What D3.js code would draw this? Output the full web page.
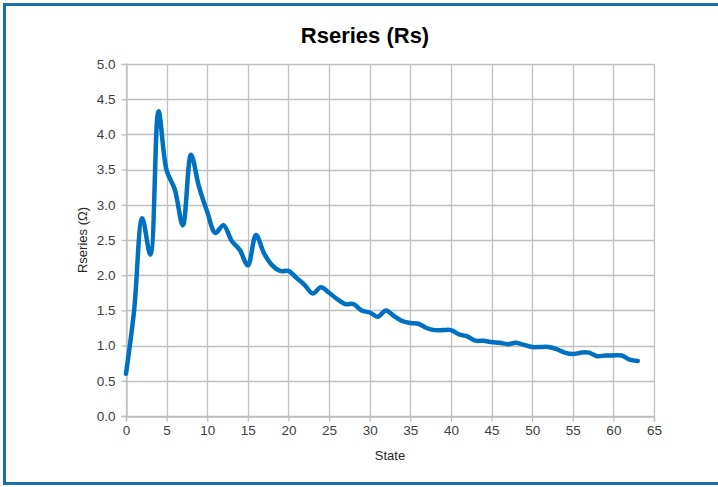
<!DOCTYPE html>
<html><head><meta charset="utf-8">
<script src="https://cdn.jsdelivr.net/npm/d3@7"></script>
<style>
html,body{margin:0;padding:0;background:#fff;}
svg{display:block;font-family:"Liberation Sans",Arial,sans-serif;}
</style></head>
<body>
<svg id="c" width="718" height="487"></svg>
<script>
const states = d3.range(0, 64);
const rseries = [0.60,1.50,2.81,2.29,4.33,3.49,3.22,2.71,3.71,3.25,2.90,2.60,2.71,2.49,2.36,2.14,
  2.57,2.31,2.14,2.06,2.06,1.96,1.86,1.74,1.83,1.75,1.66,1.59,1.59,1.50,1.47,1.41,
  1.50,1.42,1.35,1.32,1.31,1.25,1.22,1.22,1.22,1.16,1.13,1.07,1.07,1.05,1.04,1.02,
  1.04,1.01,0.98,0.98,0.98,0.95,0.90,0.88,0.90,0.90,0.85,0.86,0.86,0.86,0.80,0.78];
const xTicks = [0,5,10,15,20,25,30,35,40,45,50,55,60,65];
const yTicks = [0,0.5,1,1.5,2,2.5,3,3.5,4,4.5,5];
const title = "Rseries (Rs)";
const xTitle = "State";
const yTitle = "Rseries (Ω)";

const svg = d3.select("#c");
const W = 718, H = 487;
const m = {left:126, right:64, top:64, bottom:71};
const x = d3.scaleLinear().domain([0,65]).range([m.left, W - m.right]);
const y = d3.scaleLinear().domain([0,5]).range([H - m.bottom, m.top]);

// border
svg.append("rect").attr("x",4.5).attr("y",4.5).attr("width",W+2).attr("height",H-8)
  .attr("fill","none").attr("stroke","#1a6fae").attr("stroke-width",3);

// grid
const g = svg.append("g");
g.selectAll("line.h").data(yTicks).join("line")
  .attr("x1",x(0)).attr("x2",x(65)).attr("y1",d=>Math.round(y(d))+0.5).attr("y2",d=>Math.round(y(d))+0.5)
  .attr("stroke","#c0c0c0").attr("stroke-width",1.3);
g.selectAll("line.v").data(xTicks).join("line")
  .attr("y1",y(0)).attr("y2",y(5)).attr("x1",d=>Math.round(x(d))+0.5).attr("x2",d=>Math.round(x(d))+0.5)
  .attr("stroke","#c0c0c0").attr("stroke-width",1.3);

// axes
const xAxis = d3.axisBottom(x).tickValues(xTicks).tickSize(5).tickPadding(4).tickFormat(d3.format("d"));
const yAxis = d3.axisLeft(y).tickValues(yTicks).tickSize(5).tickPadding(6).tickFormat(d3.format(".1f"));
const gx = svg.append("g").attr("transform",`translate(0,${y(0)+0.5})`).call(xAxis);
const gy = svg.append("g").attr("transform",`translate(${x(0)+0.5},0)`).call(yAxis);
[gx,gy].forEach(a=>{
  a.select(".domain").attr("stroke","#bfbfbf").attr("stroke-width",1.3);
  a.selectAll(".tick line").attr("stroke","#bfbfbf").attr("stroke-width",1.3);
  a.selectAll(".tick text").attr("fill","#404040").attr("font-size",13.5)
   .attr("font-family","'Liberation Sans',Arial,sans-serif");
});

// line
const line = d3.line().x((d,i)=>x(states[i])).y(d=>y(d)).curve(d3.curveCatmullRom.alpha(0.5));
svg.append("path").datum(rseries).attr("d",line).attr("fill","none")
  .attr("stroke","#0070c0").attr("stroke-width",4.5).attr("stroke-linejoin","round").attr("stroke-linecap","round");

// titles
svg.append("text").attr("x",365).attr("y",43).attr("text-anchor","middle")
  .attr("font-size",22).attr("font-weight","bold").attr("fill","#000").text(title);
svg.append("text").attr("x",x(32.5)).attr("y",460).attr("text-anchor","middle")
  .attr("font-size",13).attr("fill","#262626").text(xTitle);
svg.append("text").attr("transform",`translate(87,${y(2.5)}) rotate(-90)`).attr("text-anchor","middle")
  .attr("font-size",13).attr("fill","#262626").text(yTitle);
</script>
</body></html>
